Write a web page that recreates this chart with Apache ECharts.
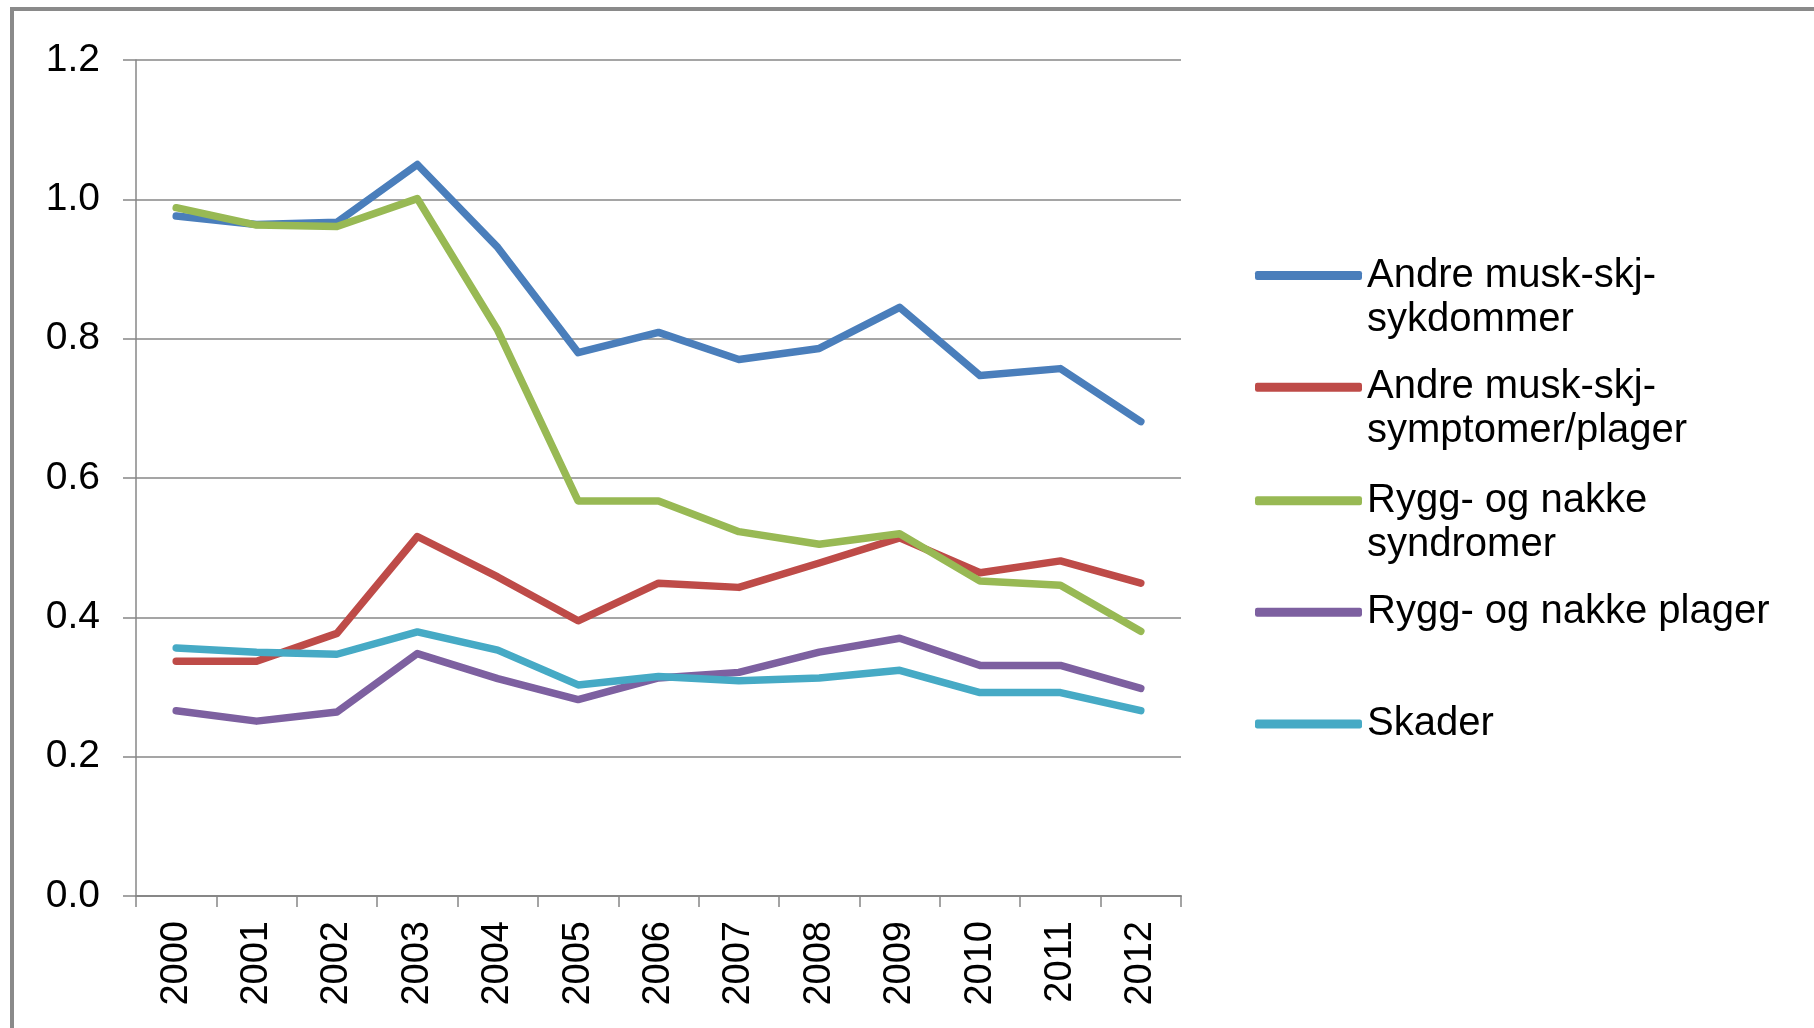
<!DOCTYPE html>
<html>
<head>
<meta charset="utf-8">
<script src="https://cdn.jsdelivr.net/npm/echarts@6/dist/echarts.min.js"></script>
<style>
html,body{margin:0;padding:0;background:#fff;}
#chart{width:1814px;height:1028px;}
</style>
</head>
<body>
<div id="chart"></div>
<script>
const years = ['2000','2001','2002','2003','2004','2005','2006','2007','2008','2009','2010','2011','2012'];
const yTicks = [0, 0.2, 0.4, 0.6, 0.8, 1.0, 1.2];

const seriesNames = [
  'Andre musk-skj-sykdommer',
  'Andre musk-skj-symptomer/plager',
  'Rygg- og nakke syndromer',
  'Rygg- og nakke plager',
  'Skader'
];
const legendLabels = [
  'Andre musk-skj-\nsykdommer',
  'Andre musk-skj-\nsymptomer/plager',
  'Rygg- og nakke\nsyndromer',
  'Rygg- og nakke plager',
  'Skader'
];

const andreSykdommer = [0.976, 0.964, 0.967, 1.050, 0.931, 0.780, 0.809, 0.770, 0.786, 0.845, 0.747, 0.757, 0.681];
const andreSymptomer = [0.337, 0.337, 0.377, 0.516, 0.458, 0.395, 0.449, 0.443, 0.478, 0.514, 0.464, 0.481, 0.449];
const ryggSyndromer  = [0.988, 0.963, 0.961, 1.001, 0.812, 0.567, 0.567, 0.523, 0.505, 0.520, 0.452, 0.446, 0.380];
const ryggPlager     = [0.266, 0.251, 0.264, 0.348, 0.312, 0.282, 0.313, 0.321, 0.350, 0.370, 0.331, 0.331, 0.298];
const skader         = [0.356, 0.350, 0.347, 0.379, 0.353, 0.303, 0.315, 0.309, 0.313, 0.324, 0.292, 0.292, 0.266];

const seriesValues = [andreSykdommer, andreSymptomer, ryggSyndromer, ryggPlager, skader];
const colors = ['#4a7ebb', '#be4b48', '#98b954', '#7d60a0', '#46aac5'];

const FONT = 'Liberation Sans, Arial, sans-serif';
const GRAY = '#878787';

// icon centre positions of the separate legend entries
const legendIconY = [275.5, 387.3, 500.7, 612.3, 724];

const legends = seriesNames.map((name, i) => {
  const lines = legendLabels[i].split('\n').length;
  const lh = 44;
  const ih = 9;
  const half = lines > 1 ? (3 * lh) / 2 : lh / 2;
  return {
    left: 1255,
    top: legendIconY[i] - half,
    orient: 'vertical',
    padding: 0,
    itemWidth: 107,
    itemHeight: ih,
    icon: 'roundRect',
    itemStyle: { borderWidth: 0 },
    selectedMode: false,
    data: [name],
    formatter: () => (lines > 1 ? '\n' + legendLabels[i] : legendLabels[i]),
    textStyle: { fontFamily: FONT, fontSize: 40, lineHeight: lh, color: '#000' }
  };
});

const option = {
  backgroundColor: '#fff',
  animation: false,
  color: colors,
  graphic: [{
    type: 'rect',
    shape: { x: 12, y: 9, width: 2000, height: 2000 },
    style: { fill: 'none', stroke: '#8a8a8a', lineWidth: 4 },
    silent: true,
    z: 100
  }],
  grid: { left: 136, top: 60, width: 1045, height: 836, containLabel: false },
  legend: legends,
  xAxis: {
    type: 'category',
    data: years,
    boundaryGap: true,
    axisLine: { show: true, lineStyle: { color: GRAY, width: 2 } },
    axisTick: { show: true, length: 11, interval: 0, lineStyle: { color: GRAY, width: 1.5 } },
    axisLabel: { rotate: 90, margin: 25, interval: 0, fontFamily: FONT, fontSize: 38, color: '#000' },
    splitLine: { show: false }
  },
  yAxis: {
    type: 'value',
    min: yTicks[0],
    max: yTicks[yTicks.length - 1],
    interval: 0.2,
    axisLine: { show: true, lineStyle: { color: GRAY, width: 1.5 } },
    axisTick: { show: true, length: 13, lineStyle: { color: GRAY, width: 1.5 } },
    axisLabel: { margin: 36, fontFamily: FONT, fontSize: 39, color: '#000', formatter: v => v.toFixed(1) },
    splitLine: { show: true, lineStyle: { color: GRAY, width: 1.5 } }
  },
  series: seriesNames.map((name, i) => ({
    name: name,
    type: 'line',
    data: seriesValues[i],
    symbol: 'none',
    lineStyle: { width: 7.5, color: colors[i], cap: 'round', join: 'round' },
    itemStyle: { color: colors[i] }
  }))
};

const chart = echarts.init(document.getElementById('chart'), null, { renderer: 'canvas' });
chart.setOption(option);
</script>
</body>
</html>
